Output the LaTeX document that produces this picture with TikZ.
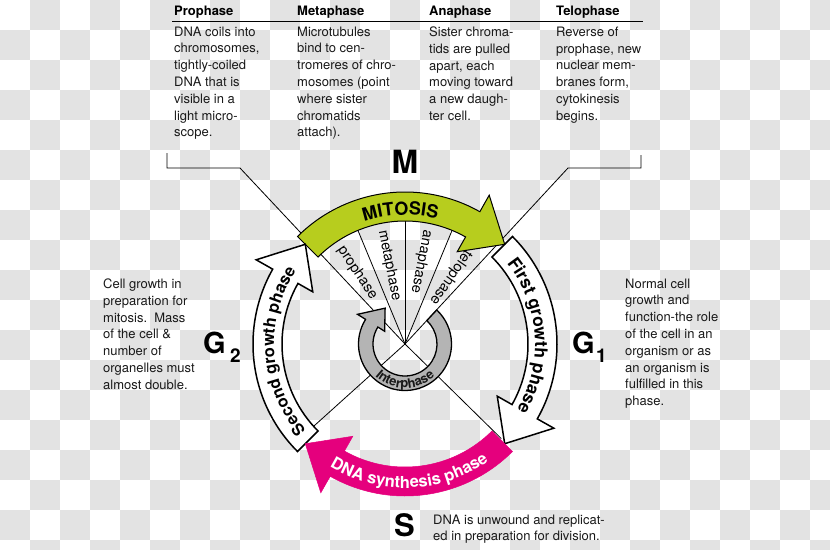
\documentclass[tikz,border=0pt]{standalone}
\usepackage{fontspec}
\setmainfont{TeX Gyre Heros}
\usetikzlibrary{decorations.text,calc}
\definecolor{mitgreen}{RGB}{183,205,30}
\definecolor{spink}{RGB}{229,0,125}
\definecolor{intgray}{RGB}{180,180,180}
\definecolor{checkgray}{RGB}{227,227,227}
\definecolor{bodytext}{RGB}{25,25,25}
\newcommand{\ringarrow}[2]{%
  \path[#2] (#1:152) arc[start angle=#1, end angle={#1-74.5}, radius=152]
    -- ({#1-74.5}:171) -- ({#1-90}:141) -- ({#1-74.5}:106) -- ({#1-74.5}:123)
    arc[start angle={#1-74.5}, end angle=#1, radius=123] -- cycle;}
\tikzset{
  ringwhite/.style={fill=white, draw=black, line width=1.5pt, line join=miter},
  ringgreen/.style={fill=mitgreen, draw=black, line width=1pt, line join=miter},
  ringpink/.style={fill=spink, draw=spink, line width=0.5pt},
  intarrow/.style={fill=intgray, draw=black, line width=1.3pt, line join=miter},
  lead/.style={draw=black, line width=0.8pt},
  hdr/.style={font=\bfseries\fontsize{13}{16}\selectfont, inner sep=0pt, anchor=base west},
  body/.style={font=\fontsize{13}{16.8}\selectfont, align=left, inner sep=0pt, anchor=north west, text=bodytext},
  bigletter/.style={font=\bfseries\fontsize{#1}{#1}\selectfont, inner sep=0pt},
  subletter/.style={font=\bfseries\fontsize{19}{19}\selectfont, inner sep=0pt, anchor=base west},
  sect/.style={font=\fontsize{14.5}{14.5}\selectfont, inner sep=0pt, anchor=west},
}
\begin{document}
\begin{tikzpicture}[x=1pt, y=1pt]
\useasboundingbox (0,0) rectangle (830,-549);
% transparency checkerboard
\begin{scope}
\clip (0,0) rectangle (830,-549);
\foreach \i in {0,...,27}{\foreach \j in {0,...,18}{
  \pgfmathtruncatemacro{\chk}{mod(\i+\j,2)}
  \ifnum\chk=1 \fill[checkgray] (\i*30,-\j*30) rectangle ++(30,-30);\fi
}}
\end{scope}
% header
\node[hdr] (hpro) at (174,-15) {Prophase};
\node[hdr] (hmet) at (297,-15) {Metaphase};
\node[hdr] (hana) at (429,-15) {Anaphase};
\node[hdr] (htel) at (556,-15) {Telophase};
\coordinate (hl1) at (172,-21);
\coordinate (hl2) at (643,-21);
\draw[lead] (hl1) -- (hl2);
\node[body] (tpro) at (174,-26.5) {DNA coils into\\chromosomes,\\tightly-coiled\\DNA that is\\visible in a\\light micro-\\scope.};
\node[body] (tmet) at (297,-26.5) {Microtubules\\bind to cen-\\tromeres of chro-\\mosomes (point\\where sister\\chromatids\\attach).};
\node[body] (tana) at (429,-26.5) {Sister chroma-\\tids are pulled\\apart, each\\moving toward\\a new daugh-\\ter cell.};
\node[body] (ttel) at (556,-26.5) {Reverse of\\prophase, new\\nuclear mem-\\branes form,\\cytokinesis\\begins.};
% side texts
\node[body] (tg2) at (103,-278.5) {Cell growth in\\preparation for\\mitosis.\ \ Mass\\of the cell \&\\number of\\organelles must\\almost double.};
\node[body] (tg1) at (625,-278.5) {Normal cell\\growth and\\function-the role\\of the cell in an\\organism or as\\an organism is\\fulfilled in this\\phase.};
\node[body] (ts) at (433,-514.5) {DNA is unwound and replicat-\\ed in preparation for division.};
% big letters
\node[bigletter=32, anchor=base] (lm) at (405,-173) {M};
\node[bigletter=29, anchor=base west] (lg2) at (203,-353) {G};
\node[subletter] (lg2s) at (230,-362) {2};
\node[bigletter=29, anchor=base west] (lg1) at (572,-353) {G};
\node[subletter] (lg1s) at (596,-362) {1};
\node[bigletter=31, anchor=base west] (ls) at (394,-536) {S};
% leader lines
\coordinate (c) at (405,-344);
\coordinate (l1) at (240,-168);
\coordinate (l2) at (167,-168);
\coordinate (l3) at (167,-153);
\coordinate (r1) at (568,-168);
\coordinate (r2) at (641,-168);
\coordinate (r3) at (641,-155);
\draw[lead] (c) -- (l1) -- (l2) -- (l3);
\draw[lead] (c) -- (r1) -- (r2) -- (r3);
\begin{scope}[shift={(405,-344)}]
\coordinate (d1) at (222:135);
\coordinate (d2) at (-44.5:135);
\draw[lead] (c) -- (d1);
\draw[lead] (c) -- (d2);
\foreach \a/\n in {112.5/s1,90/s2,67.5/s3}{
  \coordinate (\n) at (\a:130);
  \draw[lead] (c) -- (\n);
}
% sector labels
\node[sect, rotate=-56.25] (lpro) at (123.75:116) {prophase};
\node[sect, rotate=-78.75] (lmet) at (101.25:116) {metaphase};
\node[sect, rotate=-101.25] (lana) at (78.75:116) {anaphase};
\node[sect, rotate=-124.5] (ltel) at (55.5:112) {telophase};
% ring arrows
\ringarrow{45}{ringwhite}
\ringarrow{135}{ringgreen}
\ringarrow{-135}{ringwhite}
\ringarrow{-45}{ringpink}
% interphase arrow
\path[intarrow] (47:46.5) arc[start angle=47, end angle=-212, radius=46.5]
  -- (148:56) -- (119:41) -- (148:24) -- (148:32)
  arc[start angle=-212, end angle=47, radius=32] -- cycle;
% ring texts
\path[decorate, decoration={text along path, text align=center,
  text={|\bfseries\fontsize{18}{18}\selectfont|MITOSIS}}]
  (142:129) arc[start angle=142, end angle=42, radius=129];
\path[decorate, decoration={text along path, text align=center,
  text={|\bfseries\fontsize{17.5}{17.5}\selectfont|First growth phase}}]
  (54:130) arc[start angle=54, end angle=-46, radius=130];
\path[decorate, decoration={text along path, text align=center,
  text={|\bfseries\fontsize{16.5}{16.5}\selectfont|Second growth phase}}]
  (233.5:131) arc[start angle=233.5, end angle=133.5, radius=131];
\path[decorate, decoration={text along path, text align=center, text color=white,
  text={|\bfseries\fontsize{16.5}{16.5}\selectfont|DNA synthesis phase}}]
  (222:144) arc[start angle=222, end angle=322, radius=144];
\path[decorate, decoration={text along path, text align=center, text color=bodytext,
  text={|\bfseries\fontsize{13}{13}\selectfont|Interphase}}]
  (200:44) arc[start angle=200, end angle=340, radius=44];
\end{scope}
\end{tikzpicture}
\end{document}
